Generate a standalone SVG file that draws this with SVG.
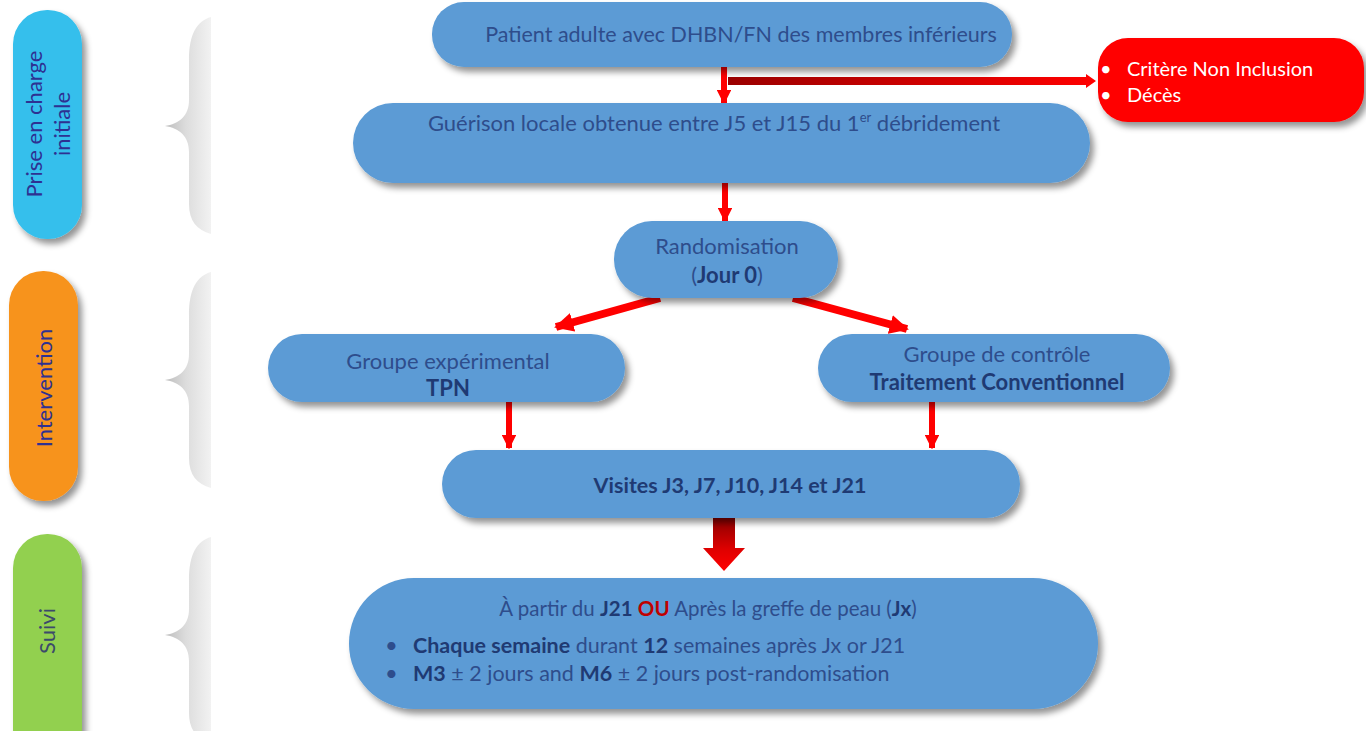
<svg xmlns="http://www.w3.org/2000/svg" width="1366" height="731" viewBox="0 0 1366 731">
  <defs>
    <filter id="shadow" x="-10%" y="-20%" width="130%" height="160%">
      <feDropShadow dx="4" dy="5" stdDeviation="3" flood-color="#000" flood-opacity="0.42"/>
    </filter>
    <linearGradient id="braceFill" x1="0" y1="0" x2="1" y2="0">
      <stop offset="0" stop-color="#bdbdbd"/>
      <stop offset="0.45" stop-color="#dcdcdc"/>
      <stop offset="1" stop-color="#f2f2f2"/>
    </linearGradient>
    <linearGradient id="sideArrow" x1="0" y1="0" x2="1" y2="0">
      <stop offset="0" stop-color="#9a0000"/>
      <stop offset="1" stop-color="#ff0000"/>
    </linearGradient>
    <linearGradient id="bigArrow" x1="0" y1="0" x2="0" y2="1">
      <stop offset="0" stop-color="#8a0000"/>
      <stop offset="0.6" stop-color="#e00000"/>
      <stop offset="1" stop-color="#ff0000"/>
    </linearGradient>
    <marker id="head" viewBox="0 0 10 10" refX="9" refY="5" markerWidth="2.4" markerHeight="2.4" orient="auto" markerUnits="strokeWidth">
      <path d="M0,0 L10,5 L0,10 Z" fill="#ff0000"/>
    </marker>
  </defs>
  <style>
    text { font-family: Lato, "Liberation Sans", sans-serif; }
    .node { fill: #5b9bd5; filter: url(#shadow); }
    .phase { filter: url(#shadow); }
    .t { fill: #2e4d8c; font-size: 22px; }
    .s { font-size: 21.5px; }
    .b { font-weight: bold; fill: #1f3a73; }
    .ph { fill: #2e3192; font-size: 22px; }
    .brace { fill: url(#braceFill); }
    .line { stroke: #ff0000; stroke-width: 6; fill: none; marker-end: url(#head); }
    .w { fill: #ffffff; font-size: 20px; }
  </style>

  <rect width="1366" height="731" fill="#ffffff"/>

  <!-- phase labels -->
  <g id="phase-initiale">
    <rect class="phase" x="13" y="10" width="69" height="229" rx="34" fill="#35bfec"/>
    <text class="ph" transform="translate(42,124) rotate(-90)" text-anchor="middle">Prise en charge</text>
    <text class="ph" transform="translate(70,124) rotate(-90)" text-anchor="middle">initiale</text>
  </g>
  <g id="phase-intervention">
    <rect class="phase" x="9" y="271" width="69" height="230" rx="34" fill="#f7931e"/>
    <text class="ph" transform="translate(52,388) rotate(-90)" text-anchor="middle">Intervention</text>
  </g>
  <g id="phase-suivi">
    <rect class="phase" x="13" y="534" width="69" height="230" rx="34" fill="#92d050"/>
    <text class="ph" transform="translate(55,631) rotate(-90)" text-anchor="middle" style="fill:#3b4a6b">Suivi</text>
  </g>

  <!-- braces -->
  <g id="braces">
    <path class="brace" d="M211,17 C197,21 189,34 189,60 L189,100 C189,116 179,124 165,126 C179,128 189,136 189,152 L189,204 C189,221 197,230 211,234 Z"/>
    <path class="brace" d="M211,272 C197,276 189,289 189,315 L189,354 C189,370 179,378 165,380 C179,382 189,390 189,406 L189,458 C189,475 197,484 211,488 Z"/>
    <path class="brace" d="M211,537 C197,541 189,554 189,580 L189,609 C189,625 179,633 165,635 C179,637 189,645 189,661 L189,713 C189,730 197,739 211,743 Z"/>
  </g>

  <!-- connectors -->
  <g id="connectors">
    <line class="line" x1="724" y1="66" x2="724" y2="103"/>
    <path d="M728,77 L1086,77 L1086,74 L1096,81 L1086,88 L1086,85 L728,85 Z" fill="url(#sideArrow)"/>
    <line class="line" x1="725" y1="183" x2="725" y2="221"/>
    <line class="line" x1="660" y1="298" x2="556" y2="327" style="stroke-width:8"/>
    <line class="line" x1="793" y1="298" x2="907" y2="329" style="stroke-width:8"/>
    <line class="line" x1="509" y1="402" x2="509" y2="448"/>
    <line class="line" x1="932" y1="402" x2="932" y2="448"/>
    <path d="M713,518 L735,518 L735,548 L745,548 L724,571 L703,548 L713,548 Z" fill="url(#bigArrow)"/>
  </g>

  <!-- flow nodes -->
  <g id="patient">
    <rect class="node" x="432" y="2" width="580" height="65" rx="32"/>
    <text class="t s" x="741" y="42" text-anchor="middle">Patient adulte avec DHBN/FN des membres inférieurs</text>
  </g>

  <g id="exclusion">
    <rect x="1098" y="38" width="266" height="84" rx="30" fill="#ff0000" filter="url(#shadow)"/>
    <text class="w" x="1100" y="76">•</text>
    <text class="w" x="1127" y="76">Critère Non Inclusion</text>
    <text class="w" x="1100" y="102">•</text>
    <text class="w" x="1127" y="102">Décès</text>
  </g>

  <g id="guerison">
    <rect class="node" x="353" y="103" width="737" height="80" rx="40"/>
    <text class="t" x="714" y="131" text-anchor="middle">Guérison locale obtenue entre J5 et J15 du 1<tspan font-size="13" dy="-9">er</tspan><tspan dy="9"> débridement</tspan></text>
  </g>

  <g id="randomisation">
    <rect class="node" x="614" y="221" width="224" height="77" rx="38"/>
    <text class="t" x="727" y="254" text-anchor="middle">Randomisation</text>
    <text class="t" x="727" y="283" text-anchor="middle">(<tspan class="b">Jour 0</tspan>)</text>
  </g>

  <g id="groupe-experimental">
    <rect class="node" x="268" y="334" width="357" height="68" rx="34"/>
    <text class="t" x="448" y="369" text-anchor="middle">Groupe expérimental</text>
    <text class="t b" x="448" y="396" text-anchor="middle">TPN</text>
  </g>

  <g id="groupe-controle">
    <rect class="node" x="818" y="334" width="352" height="68" rx="34"/>
    <text class="t" x="997" y="362" text-anchor="middle">Groupe de contrôle</text>
    <text class="t b" x="997" y="390" text-anchor="middle">Traitement Conventionnel</text>
  </g>

  <g id="visites">
    <rect class="node" x="442" y="450" width="578" height="68" rx="34"/>
    <text class="t s b" x="730" y="493" text-anchor="middle">Visites J3, J7, J10, J14 et J21</text>
  </g>

  <g id="suivi">
    <rect class="node" x="349" y="578" width="749" height="131" rx="65"/>
    <text class="t" x="708" y="616" text-anchor="middle" style="font-size:20.5px">À partir du <tspan class="b">J21</tspan> <tspan font-weight="bold" fill="#c00000">OU</tspan> Après la greffe de peau (<tspan class="b">Jx</tspan>)</text>
    <text class="t" x="385" y="653">•</text>
    <text class="t s" x="413" y="653"><tspan class="b">Chaque semaine</tspan> durant <tspan class="b">12</tspan> semaines après Jx or J21</text>
    <text class="t" x="385" y="681">•</text>
    <text class="t s" x="413" y="681"><tspan class="b">M3</tspan> ± 2 jours and <tspan class="b">M6</tspan> ± 2 jours post-randomisation</text>
  </g>
</svg>
